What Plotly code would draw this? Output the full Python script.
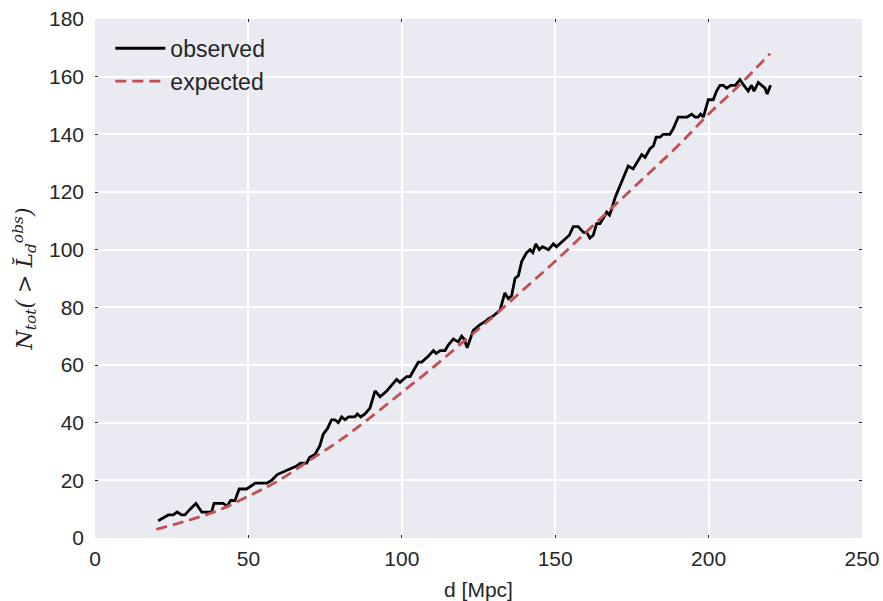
import plotly.graph_objects as go

# Cumulative source counts above the observed luminosity threshold vs distance
d_obs = [20.6, 22.3, 23.9, 25.5, 26.8, 28.2, 29.3, 31.0, 32.9, 34.8, 38.0, 38.8,
         41.8, 43.1, 44.2, 45.6, 47.0, 49.4, 52.2, 56.0, 57.6, 59.4, 61.4, 63.6,
         65.7, 67.0, 69.0, 70.0, 71.7, 73.3, 74.4, 75.8, 77.1, 78.2, 79.3, 80.4,
         81.5, 82.6, 84.7, 85.5, 86.6, 88.0, 89.6, 91.3, 92.9, 95.1, 96.7, 98.3,
         99.4, 101.6, 102.7, 105.4, 106.5, 108.6, 110.3, 111.2, 112.5, 114.1, 115.2,
         116.8, 118.4, 119.5, 120.3, 121.3, 123.3, 125.5, 127.1, 128.2, 129.8, 130.9,
         132.0, 133.6, 134.7, 135.8, 136.9, 138.0, 139.1, 140.7, 141.8, 142.7, 143.7,
         144.8, 145.9, 147.8, 149.4, 150.4, 152.6, 154.6, 155.9, 157.5, 159.2, 160.3,
         161.3, 162.4, 163.5, 164.6, 165.7, 166.8, 167.7, 168.4, 169.5, 171.1, 172.7,
         173.8, 175.4, 177.1, 178.2, 179.3, 180.9, 182.0, 182.9, 184.2, 185.2, 187.4,
         188.5, 190.1, 193.0, 194.5, 195.6, 196.6, 197.4, 198.3, 199.4, 199.9, 201.5,
         202.6, 203.7, 204.8, 205.9, 207.2, 208.7, 210.2, 211.5, 212.9, 214.0, 214.8,
         216.2, 217.3, 218.4, 219.1, 220.2]
n_obs = [6, 7, 8, 8, 9, 8, 8, 10, 12, 9, 9, 12,
         12, 11, 13, 13, 17, 17, 19, 19, 20, 22, 23, 24,
         25, 26, 26, 28, 29, 32, 36, 38, 41, 41, 40, 42,
         41, 42, 42, 43, 42, 43, 45, 51, 49, 51, 53, 55,
         54, 56, 56, 61, 61, 63, 65, 64, 65, 65, 67,
         69, 68, 70, 69, 66, 72, 74, 75, 76, 77, 78,
         79, 85, 83, 84, 90, 91, 96, 99, 100, 99, 102,
         100, 101, 100, 102, 101, 103, 105, 108, 108, 106, 106,
         104, 105, 109, 109, 111, 113, 112, 114, 118, 122, 126,
         129, 128, 131, 133, 132, 135, 136, 139, 139, 140, 140,
         142, 146, 146, 147, 146, 146, 147, 146, 150, 152, 152,
         155, 157, 157, 156, 157, 157, 159, 157, 155, 157, 155,
         158, 157, 156, 154, 157]

d_exp = [20, 30, 40, 50, 60, 70, 80, 90, 100, 110, 120, 130, 140, 150,
         160, 170, 180, 190, 200, 210, 220]
n_exp = [3, 6, 9.5, 14.5, 20, 27, 34, 42, 50.5, 59, 68, 77, 86.5, 96,
         106, 116, 126, 136, 147, 157, 168]

x_ticks = [0, 50, 100, 150, 200, 250]
y_ticks = [0, 20, 40, 60, 80, 100, 120, 140, 160, 180]

SANS = "Liberation Sans, Arial, sans-serif"
TXT = "#262626"

fig = go.Figure()
fig.add_trace(go.Scatter(x=d_obs, y=n_obs, mode="lines", name="observed",
                         line=dict(color="#000000", width=2.8)))
fig.add_trace(go.Scatter(x=d_exp, y=n_exp, mode="lines", name="expected",
                         line=dict(color="#C44E52", width=2.8, dash="11px,6px",
                                   shape="spline")))

axis_common = dict(
    showgrid=True, gridcolor="#FFFFFF", gridwidth=1.8, zeroline=False,
    showline=False, ticks="inside", ticklen=3, tickcolor=TXT,
    mirror="ticks", automargin=False,
    tickfont=dict(family=SANS, size=21, color=TXT),
)

fig.update_xaxes(range=[0, 250], tickvals=x_ticks, ticklabelstandoff=6,
                 **axis_common,
                 title=dict(text="d [Mpc]", standoff=14,
                            font=dict(family=SANS, size=21, color=TXT)))
fig.update_yaxes(range=[0, 180], tickvals=y_ticks, ticklabelstandoff=10,
                 **axis_common,
                 title=dict(text="<i>N<sub>tot</sub>( &gt; L\u0306<sub>d</sub><sup>obs</sup>)</i>",
                            standoff=10,
                            font=dict(family="DejaVu Serif, Liberation Serif, serif",
                                      size=22, color=TXT)))

fig.update_layout(
    width=883, height=601,
    margin=dict(l=95, r=21, t=19, b=63),
    paper_bgcolor="#FFFFFF", plot_bgcolor="#EAEAF2",
    showlegend=True,
    legend=dict(x=0.02, y=0.985, xanchor="left", yanchor="top",
                bgcolor="rgba(0,0,0,0)", borderwidth=0,
                font=dict(family=SANS, size=23, color=TXT),
                itemwidth=50, tracegroupgap=0),
)

fig.write_html("out.html")
